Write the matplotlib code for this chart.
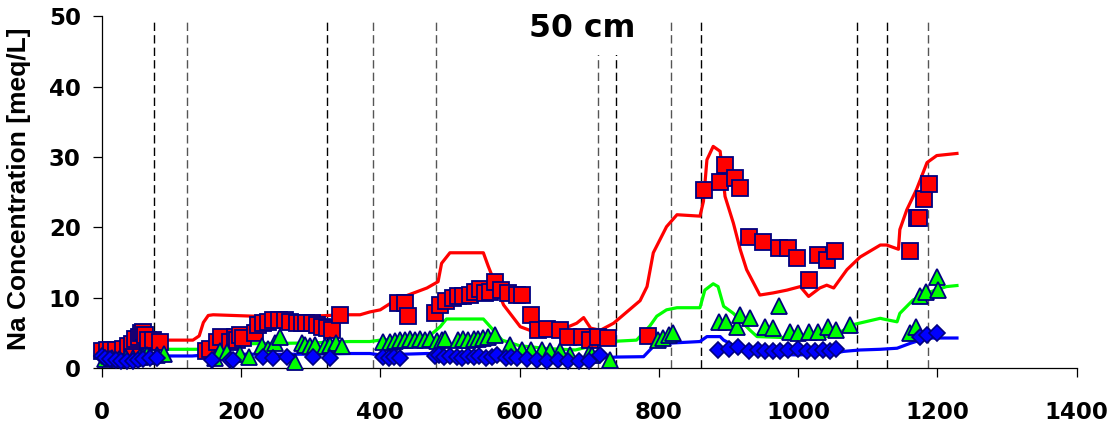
import matplotlib
matplotlib.use("Agg")
import matplotlib.pyplot as plt

# simulated lines (time [d], Na [meq/L])
red_x = [0, 30, 65, 131, 140, 146, 153, 160, 218, 260, 300, 352, 371, 385, 400, 419, 440, 467, 483, 488,
         500, 548, 555, 577, 601, 620, 640, 658, 682, 692, 702, 716, 735, 773, 783, 792, 811, 826, 859,
         864, 869, 878, 888, 895, 907, 917, 926, 945, 964, 984, 1003, 1015, 1031, 1041, 1051, 1070, 1089,
         1118, 1127, 1144, 1146, 1156, 1170, 1185, 1199, 1228]
red_y = [2.5, 3.8, 4.0, 4.0, 4.6, 6.5, 7.5, 7.6, 7.4, 7.3, 7.4, 7.6, 7.6, 8.0, 8.3, 9.5, 10.4, 11.4, 12.3, 14.9,
         16.4, 16.4, 14.5, 9.0, 5.9, 5.2, 5.3, 5.4, 6.4, 7.2, 5.7, 5.4, 6.4, 9.6, 11.6, 16.4, 20.1, 21.8, 21.6,
         23.7, 29.6, 31.5, 30.8, 24.4, 20.6, 16.8, 14.0, 10.4, 10.7, 11.1, 11.6, 10.2, 11.4, 11.8, 11.4, 14.0, 15.8,
         17.5, 17.5, 16.9, 19.7, 22.5, 25.4, 29.2, 30.2, 30.5]

green_x = [0, 65, 141, 150, 160, 220, 300, 357, 385, 400, 467, 486, 495, 548, 558, 575, 600, 640, 680, 701,
           730, 768, 787, 797, 811, 826, 859, 866, 878, 885, 893, 907, 931, 941, 1000, 1051, 1079, 1118,
           1122, 1142, 1146, 1165, 1185, 1213, 1228]
green_y = [2.7, 2.7, 2.7, 3.0, 3.4, 3.5, 3.6, 3.8, 3.8, 4.0, 4.3, 5.9, 7.0, 7.0, 5.9, 4.0, 3.2, 2.8, 2.6, 3.1,
           3.8, 4.0, 6.0, 7.4, 8.3, 8.6, 8.6, 11.1, 12.0, 11.6, 8.8, 7.8, 5.4, 4.5, 4.3, 4.6, 6.2, 7.1,
           7.0, 6.6, 7.8, 9.7, 10.7, 11.6, 11.75]

blue_x = [0, 65, 130, 150, 200, 300, 357, 385, 400, 467, 500, 540, 581, 640, 700, 740, 778, 792, 811, 859,
          869, 888, 893, 920, 950, 1000, 1050, 1065, 1089, 1118, 1142, 1161, 1185, 1228]
blue_y = [1.75, 1.75, 1.75, 1.9, 2.0, 2.0, 2.1, 2.1, 1.9, 2.1, 2.0, 1.6, 1.4, 1.4, 1.4, 1.6, 1.65, 3.1, 3.55, 3.8,
          4.5, 4.5, 4.0, 2.6, 2.0, 1.9, 2.1, 2.4, 2.6, 2.7, 2.85, 3.55, 4.3, 4.3]

# measured points
sq_x = [0, 7, 14, 21, 31, 38, 43, 48, 53, 57, 60, 62, 67, 45, 74, 84,
        150, 156, 165, 172, 184, 191, 194, 199, 203, 220, 225, 232, 239, 246, 254, 263, 270, 280, 287, 294,
        302, 309, 316, 323, 330, 342,
        426, 436, 440, 479, 486, 495, 505, 512, 519, 529, 536, 543, 550, 558, 565, 574, 584, 596, 603, 617,
        627, 639, 658, 670, 689, 701, 713, 727, 785,
        865, 888, 895, 909, 916, 929, 950, 972, 986, 999, 1015, 1029, 1041, 1053, 1161, 1170, 1174, 1181, 1188]
sq_y = [2.4, 2.6, 2.6, 2.6, 2.8, 3.1, 3.5, 4.2, 4.5, 5.0, 5.2, 4.7, 4.0, 1.65, 4.0, 3.8,
        2.5, 2.8, 3.8, 4.5, 3.8, 4.5, 4.0, 4.7, 4.3, 5.0, 6.2, 6.4, 6.6, 6.9, 6.9, 6.9, 6.6, 6.4, 6.4, 6.4,
        6.4, 6.2, 5.9, 5.7, 5.4, 7.6,
        9.2, 9.2, 7.4, 7.8, 9.0, 9.6, 10.0, 10.2, 10.3, 10.4, 10.9, 11.2, 10.7, 10.9, 12.2, 11.1, 10.7, 10.4, 10.4, 7.6,
        5.4, 5.6, 5.4, 4.5, 4.5, 4.0, 4.5, 4.3, 4.6,
        25.3, 26.5, 28.9, 27.0, 25.6, 18.7, 18.0, 17.1, 17.1, 15.6, 12.6, 16.1, 15.4, 16.6, 16.6, 21.3, 21.3, 24.0, 26.2]

tri_x = [5, 15, 25, 35, 45, 55, 60, 65, 70, 80, 90,
         163, 170, 180, 199, 211, 230, 239, 249, 256, 278, 287, 292, 299, 306, 321, 328, 337, 345,
         404, 414, 421, 428, 436, 443, 450, 457, 464, 471, 481, 488, 493, 512, 519, 526, 534, 541, 548, 555, 565, 586,
         603, 617, 632, 644, 658, 672, 699, 704, 730, 799, 806, 814, 821,
         887, 897, 912, 917, 931, 952, 964, 973, 988, 1000, 1015, 1029, 1043, 1055, 1075,
         1161, 1169, 1175, 1184, 1199, 1201]
tri_y = [1.3, 1.5, 1.3, 1.4, 1.5, 1.6, 1.7, 1.9, 1.8, 1.9, 2.1,
         1.4, 2.5, 2.3, 2.1, 1.65, 3.1, 2.8, 3.55, 4.5, 0.9, 3.55, 3.3, 3.1, 3.3, 3.1, 3.3, 3.55, 3.1,
         3.8, 3.8, 3.9, 4.0, 4.0, 4.1, 4.0, 4.2, 4.0, 4.1, 3.9, 4.0, 4.2, 4.0, 4.1, 4.0, 4.2, 4.1, 4.3, 4.4, 4.7, 3.3,
         2.6, 2.6, 2.6, 2.4, 2.4, 1.9, 2.1, 1.9, 1.2, 4.0, 4.3, 4.7, 5.0,
         6.6, 6.6, 5.9, 7.6, 7.1, 5.9, 5.7, 8.8, 5.2, 5.0, 5.2, 5.2, 5.9, 5.4, 6.2,
         5.0, 5.9, 10.2, 10.9, 13.0, 11.1]

dia_x = [0, 5, 12, 20, 28, 36, 45, 52, 60, 70, 80,
         158, 184, 189, 232, 246, 266, 304, 328,
         404, 412, 420, 428, 478, 485, 492, 500, 510, 518, 526, 534, 542, 552, 560, 568, 580, 588, 596,
         610, 625, 640, 655, 670, 685, 700, 716,
         885, 900, 914, 929, 943, 952, 964, 974, 986, 1000, 1012, 1024, 1036, 1046, 1055,
         1175, 1185, 1199]
dia_y = [1.8, 1.5, 1.3, 1.2, 1.1, 1.0, 1.1, 1.2, 1.3, 1.4, 1.5,
         1.2, 1.2, 1.2, 1.65, 1.4, 1.65, 1.65, 1.4,
         1.6, 1.5, 1.6, 1.5, 1.7, 1.9, 1.6, 1.8, 1.6, 1.5, 1.7, 1.6, 1.8, 1.5, 1.6, 1.9, 1.4, 1.6, 1.5,
         1.3, 1.2, 1.1, 1.2, 1.0, 1.1, 1.0, 1.9,
         2.6, 2.8, 3.0, 2.5, 2.6, 2.4, 2.5, 2.4, 2.6, 2.8, 2.5, 2.4, 2.6, 2.5, 2.7,
         4.5, 4.7, 5.0]

# dashed event lines
events = [75.5, 122, 324, 389, 480, 712, 738, 818, 861, 1084, 1127, 1186]
event_cols = ['k', '#555555', 'k', '#555555', '#555555', '#555555', 'k', '#555555', 'k', 'k', 'k', '#555555']

fig = plt.figure(figsize=(11.15, 4.23), dpi=100)
ax = fig.add_axes([0.0912, 0.1293, 0.8745, 0.8327])

for x, c in zip(events, event_cols):
    ax.plot([x, x], [0, 49.3], color=c, lw=1.0, dashes=(6, 3), zorder=1)

ax.plot(red_x, red_y, color='#ff0000', lw=2.3, zorder=2)
ax.plot(green_x, green_y, color='#00ff00', lw=2.3, zorder=2)
ax.plot(blue_x, blue_y, color='#0000ff', lw=2.3, zorder=2)

ax.plot(sq_x, sq_y, ls='none', marker='s', ms=12, mfc='#ff0000', mec='#000080', mew=1.3, zorder=3, clip_on=False)
ax.plot(tri_x, tri_y, ls='none', marker='^', ms=11, mfc='#00ff00', mec='#000080', mew=1.3, zorder=4, clip_on=False)
ax.plot(dia_x, dia_y, ls='none', marker='D', ms=8, mfc='#0000ff', mec='#000080', mew=1.2, zorder=5, clip_on=False)

ax.text(690, 48.2, '50 cm', ha='center', va='center', fontsize=22.7, fontweight='bold',
        family='DejaVu Sans', zorder=6,
        bbox=dict(facecolor='white', edgecolor='none', boxstyle='square,pad=0.35'))

ax.set_xlim(0, 1400)
ax.set_ylim(0, 50)
ax.set_xticks(range(0, 1401, 200))
ax.set_yticks(range(0, 51, 10))
ax.spines['top'].set_visible(False)
ax.spines['right'].set_visible(False)
ax.spines['left'].set_linewidth(0.9)
ax.spines['bottom'].set_linewidth(0.9)
ax.tick_params(axis='y', direction='out', length=6.5, width=0.9, pad=8.5, labelsize=16.5)
ax.tick_params(axis='x', direction='out', length=6.5, width=0.9, pad=17, labelsize=16.5)
for lab in ax.get_xticklabels() + ax.get_yticklabels():
    lab.set_fontweight('bold')
    lab.set_family('DejaVu Sans')

ax.set_ylabel('Na Concentration [meq/L]', fontsize=19, fontweight='bold', family='Liberation Sans')
ax.yaxis.set_label_coords(-0.072, 0.51)

fig.savefig('out.png', dpi=100)
